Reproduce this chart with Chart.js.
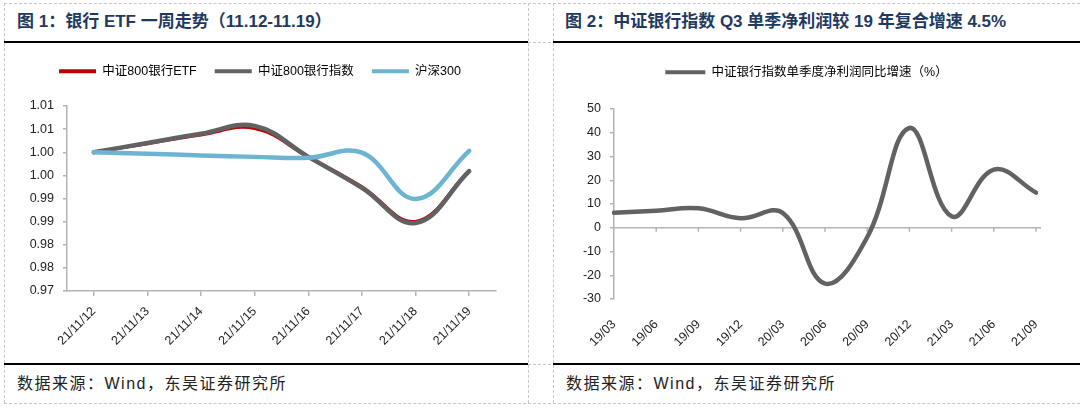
<!DOCTYPE html>
<html>
<head>
<meta charset="utf-8">
<script src="https://cdn.jsdelivr.net/npm/chart.js@4.4.0/dist/chart.umd.min.js"></script>
<style>
html, body { margin: 0; padding: 0; background: #fff; }
body { width: 1080px; height: 408px; position: relative; overflow: hidden; font-family: "Liberation Sans", "Noto Sans CJK SC", sans-serif; }
.vl { position: absolute; top: 3px; height: 400px; border-left: 1px dashed #c8c8c8; }
.hl { position: absolute; left: 4px; width: 1076px; border-top: 1px dashed #c8c8c8; }
.rule { position: absolute; height: 2px; background: #000; }
.title { position: absolute; top: 12px; line-height: 20px; font-size: 17px; font-weight: bold; color: #1f3a60; white-space: nowrap; }
.src { position: absolute; top: 374px; line-height: 20px; font-size: 16px; color: #222; letter-spacing: 1.5px; white-space: nowrap; }
.box { position: absolute; top: 44px; height: 318px; }
</style>
</head>
<body>
<div class="hl" style="top:3px"></div>
<div class="hl" style="top:42px"></div>
<div class="hl" style="top:364px"></div>
<div class="hl" style="top:403px"></div>
<div class="vl" style="left:4px"></div>
<div class="vl" style="left:528px"></div>
<div class="vl" style="left:553px"></div>
<div class="rule" style="left:4px;width:524px;top:41px"></div>
<div class="rule" style="left:553px;width:527px;top:41px"></div>
<div class="rule" style="left:4px;width:524px;top:363px"></div>
<div class="rule" style="left:553px;width:527px;top:363px"></div>

<div class="title" style="left:17px">图 1：银行 ETF 一周走势（11.12-11.19）</div>
<div class="title" style="left:565px">图 2：中证银行指数 Q3 单季净利润较 19 年复合增速 4.5%</div>
<div class="src" style="left:17px">数据来源：Wind，东吴证券研究所</div>
<div class="src" style="left:566px">数据来源：Wind，东吴证券研究所</div>

<div class="box" style="left:4px;width:524px"><canvas id="etfChart"></canvas></div>
<div class="box" style="left:553px;width:527px"><canvas id="profitChart"></canvas></div>

<script>
// 图1 数据
const etfDates = ['21/11/12', '21/11/13', '21/11/14', '21/11/15', '21/11/16', '21/11/17', '21/11/18', '21/11/19'];
const etfValues = [1.0000, 1.0019, 1.0038, 1.0052, 0.9990, 0.9925, 0.9850, 0.9960];
const bankIndexValues = [1.0000, 1.0020, 1.0040, 1.0057, 0.9990, 0.9923, 0.9847, 0.9959];
const hs300Values = [1.0000, 0.9997, 0.9993, 0.9990, 0.9988, 0.9999, 0.9899, 1.0003];
const etfTickLabels = ['0.97', '0.98', '0.98', '0.99', '0.99', '1.00', '1.00', '1.01', '1.01'];

// 图2 数据
const quarters = ['19/03', '19/06', '19/09', '19/12', '20/03', '20/06', '20/09', '20/12', '21/03', '21/06', '21/09'];
const profitGrowth = [6.3, 7.2, 8.2, 4.0, 6.2, -23.5, -4.0, 42.0, 4.8, 24.5, 14.8];

const axisColor = '#b4b4b4';
const tickFont = { family: '"Liberation Sans", Arial, sans-serif', size: 12.5 };
const legendFont = { family: '"Liberation Sans", "Noto Sans CJK SC", sans-serif', size: 12.5 };

function fixedLegend(height) {
    return {
        id: 'fixedLegend',
        beforeInit: function (chart) {
            const fit = chart.legend.fit;
            chart.legend.fit = function () {
                fit.bind(chart.legend)();
                this.height = height;
            };
        }
    };
}

function legendItems(chart) {
    return chart.data.datasets.map(function (d, i) {
        return { text: d.label, fillStyle: d.borderColor, strokeStyle: d.borderColor, lineWidth: 0, datasetIndex: i, hidden: false };
    });
}

const spacer = function (w) {
    return {
        type: 'linear', position: 'right', display: true,
        grid: { display: false }, border: { display: false }, ticks: { display: false },
        afterFit: function (s) { s.width = w; }
    };
};

document.addEventListener('DOMContentLoaded', function () {
    new Chart(document.getElementById('etfChart').getContext('2d'), {
        type: 'line',
        data: {
            labels: etfDates,
            datasets: [
                { label: '中证800银行ETF', data: etfValues, borderColor: '#c00000', borderWidth: 3.5, order: 2 },
                { label: '中证800银行指数', data: bankIndexValues, borderColor: '#626262', borderWidth: 4.5, order: 1 },
                { label: '沪深300', data: hs300Values, borderColor: '#6cb4d2', borderWidth: 4.5, order: 0 }
            ]
        },
        options: {
            responsive: true,
            maintainAspectRatio: false,
            animation: false,
            layout: { padding: { top: 3, right: 12, left: 0, bottom: 0 } },
            elements: { point: { radius: 0 }, line: { tension: 0.4, borderCapStyle: 'round' } },
            plugins: {
                legend: {
                    position: 'top',
                    labels: {
                        boxWidth: 37, boxHeight: 4, padding: 18, color: '#222', font: legendFont,
                        useBorderRadius: true, borderRadius: 2,
                        generateLabels: legendItems,
                        sort: function (a, b) { return a.datasetIndex - b.datasetIndex; }
                    }
                },
                tooltip: { enabled: false }
            },
            scales: {
                x: {
                    offset: true,
                    grid: { drawOnChartArea: false, color: axisColor, tickLength: 5, lineWidth: 1.5 },
                    border: { color: axisColor, width: 1.5 },
                    ticks: { color: '#222', font: tickFont, minRotation: 45, maxRotation: 45, autoSkip: false, padding: 8 },
                    afterFit: function (s) { s.height = 71; }
                },
                y: {
                    min: 0.97, max: 1.01,
                    grid: { drawOnChartArea: false, color: axisColor, tickLength: 4, lineWidth: 1.5 },
                    border: { color: axisColor, width: 1.5 },
                    ticks: {
                        stepSize: 0.005, color: '#222', font: tickFont, padding: 9,
                        callback: function (v, i) { return etfTickLabels[i]; }
                    },
                    afterFit: function (s) { s.width = 63; }
                },
                yR: spacer(20)
            }
        },
        plugins: [fixedLegend(59)]
    });

    // 零轴线和刻度
    const zeroAxis = {
        id: 'zeroAxis',
        beforeDatasetsDraw: function (chart) {
            const xs = chart.scales.x, ys = chart.scales.y;
            const y0 = ys.getPixelForValue(0);
            const c = chart.ctx;
            c.save();
            c.strokeStyle = axisColor;
            c.lineWidth = 1.5;
            c.beginPath();
            c.moveTo(chart.chartArea.left, y0);
            c.lineTo(chart.chartArea.right + 5, y0);
            for (let i = 1; i < quarters.length; i++) {
                const x = xs.getPixelForTick(i);
                c.moveTo(x, y0);
                c.lineTo(x, y0 + 4);
            }
            c.stroke();
            c.restore();
        }
    };

    new Chart(document.getElementById('profitChart').getContext('2d'), {
        type: 'line',
        data: {
            labels: quarters,
            datasets: [
                { label: '中证银行指数单季度净利润同比增速（%）', data: profitGrowth, borderColor: '#626262', borderWidth: 4.5 }
            ]
        },
        options: {
            responsive: true,
            maintainAspectRatio: false,
            animation: false,
            layout: { padding: { top: 4, right: 20, left: 0, bottom: 0 } },
            elements: { point: { radius: 0 }, line: { tension: 0.4, borderCapStyle: 'round' } },
            plugins: {
                legend: {
                    position: 'top',
                    labels: {
                        boxWidth: 40, boxHeight: 4, padding: 18, color: '#222', font: legendFont,
                        useBorderRadius: true, borderRadius: 2,
                        generateLabels: legendItems
                    }
                },
                tooltip: { enabled: false }
            },
            scales: {
                x: {
                    offset: false,
                    grid: { display: false },
                    border: { display: false },
                    ticks: { color: '#222', font: tickFont, minRotation: 45, maxRotation: 45, autoSkip: false, padding: 10 },
                    afterFit: function (s) { s.height = 63; }
                },
                y: {
                    min: -30, max: 50,
                    grid: { lineWidth: 1.5, tickLength: 4, tickColor: axisColor, drawOnChartArea: false },
                    border: { color: axisColor, width: 1.5 },
                    ticks: { stepSize: 10, color: '#222', font: tickFont, padding: 9 },
                    afterFit: function (s) { s.width = 61; }
                },
                yR: spacer(24)
            }
        },
        plugins: [fixedLegend(61), zeroAxis]
    });
});
</script>
</body>
</html>
